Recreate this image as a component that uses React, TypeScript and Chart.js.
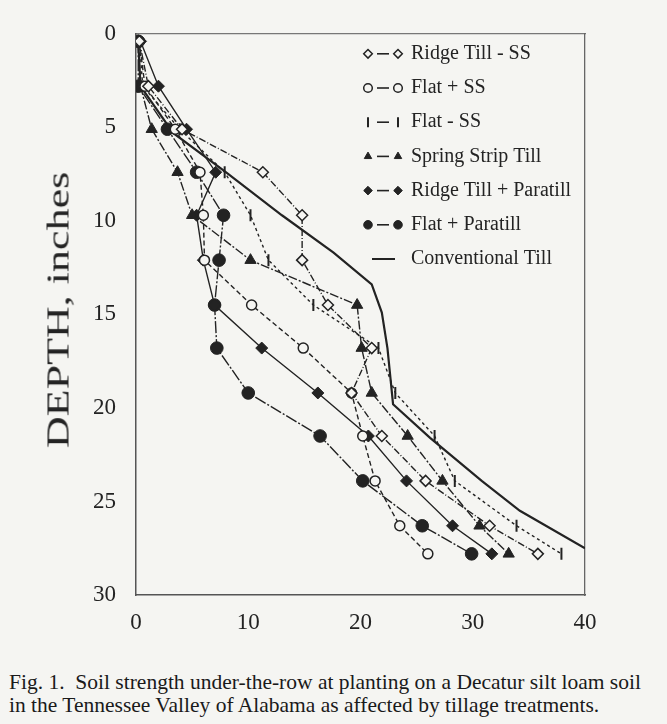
import React, { useEffect, useRef } from 'react';
import { Chart, registerables } from 'chart.js';
import { drawPoint } from 'chart.js/helpers';

Chart.register(...registerables);

// Depth (inches) of each measurement level
const depths = [0.4, 2.8, 5.1, 7.4, 9.7, 12.1, 14.5, 16.8, 19.2, 21.5, 23.9, 26.3, 27.8];

// Soil strength readings for each treatment at the depth levels above
const ridgeTillMinusSS = [0.3, 1.1, 4.1, 11.3, 14.8, 14.8, 17.1, 21.0, 19.2, 21.9, 25.8, 31.5, 35.8];
const flatPlusSS = [0.3, 0.8, 3.5, 5.7, 6.0, 6.1, 10.3, 14.9, 19.2, 20.2, 21.3, 23.5, 26.0];
const flatMinusSS = [0.3, 0.6, 3.9, 7.9, 10.2, 11.8, 15.8, 21.6, 23.1, 26.6, 28.4, 33.9, 37.9];
const springStripTill = [0.2, 0.4, 1.4, 3.7, 5.0, 10.2, 19.7, 20.1, 21.0, 24.2, 27.3, 30.6, 33.2];
const ridgeTillPlusParatill = [0.4, 2.0, 4.5, 7.1, 5.4, 6.0, 7.0, 11.2, 16.2, 20.7, 24.1, 28.2, 31.7];
const flatPlusParatill = [0.2, 0.2, 2.8, 5.4, 7.8, 7.4, 7.0, 7.2, 10.0, 16.4, 20.2, 25.5, 29.9];

// Conventional till is drawn as a plain curve
const conventionalDepths = [0.4, 2.8, 5.3, 7.4, 9.7, 11.7, 13.4, 14.9, 16.8, 19.8, 21.6, 23.9, 25.5, 27.5];
const conventionalTill = [0.2, 0.4, 3.3, 8.0, 13.0, 17.6, 21.0, 21.9, 22.4, 22.9, 26.2, 30.8, 34.2, 40.0];

const seriesLabels = [
  'Ridge Till - SS',
  'Flat + SS',
  'Flat - SS',
  'Spring Strip Till',
  'Ridge Till + Paratill',
  'Flat + Paratill',
  'Conventional Till',
];

const xTickValues = [0, 10, 20, 30, 40];
const yTickValues = [0, 5, 10, 15, 20, 25, 30];

const captionLines = [
  'Fig. 1.  Soil strength under-the-row at planting on a Decatur silt loam soil',
  'in the Tennessee Valley of Alabama as affected by tillage treatments.',
];

const INK = '#232323';
const PAPER = '#f5f5f2';
const SERIF = '"Liberation Serif", "Times New Roman", serif';

const pairs = (ys: number[], xs: number[]) => xs.map((x, i) => ({ x, y: ys[i] }));

const insideLegend = {
  id: 'insideLegend',
  afterDraw(chart: any) {
    const { ctx, chartArea } = chart;
    const x0 = chartArea.left + 232;
    chart.data.datasets.forEach((ds: any, i: number) => {
      const y = chartArea.top + 20 + i * 34.2;
      ctx.save();
      ctx.strokeStyle = INK;
      ctx.lineCap = 'butt';
      if (ds.pointRadius > 0) {
        ctx.lineWidth = 1.6;
        ctx.beginPath();
        ctx.moveTo(x0 + 9, y);
        ctx.lineTo(x0 + 21, y);
        ctx.stroke();
        const opts = {
          pointStyle: ds.pointStyle,
          rotation: ds.pointRotation || 0,
          radius: ds.pointStyle === 'line' ? 5 : 4.3,
          borderWidth: ds.pointBorderWidth,
        };
        ctx.fillStyle = ds.pointBackgroundColor;
        ctx.lineWidth = ds.pointBorderWidth;
        drawPoint(ctx, opts, x0, y);
        drawPoint(ctx, opts, x0 + 30, y);
      } else {
        ctx.lineWidth = 2;
        ctx.beginPath();
        ctx.moveTo(x0 + 4, y);
        ctx.lineTo(x0 + 27, y);
        ctx.stroke();
      }
      ctx.fillStyle = INK;
      ctx.font = `20px ${SERIF}`;
      ctx.textBaseline = 'middle';
      ctx.textAlign = 'left';
      ctx.fillText(ds.label, chartArea.left + 275, y);
      ctx.restore();
    });
  },
};

function markerSet(style: string, radius: number, filled: boolean, extra: any = {}) {
  return {
    pointStyle: style,
    pointRadius: radius,
    pointBackgroundColor: filled ? INK : PAPER,
    pointBorderColor: INK,
    pointBorderWidth: filled ? 1 : 1.5,
    ...extra,
  };
}

export default function App() {
  const canvasRef = useRef<HTMLCanvasElement | null>(null);

  useEffect(() => {
    if (!canvasRef.current) return;
    const base = {
      showLine: true,
      borderColor: INK,
      borderWidth: 1.4,
      tension: 0,
      fill: false,
    };
    const datasets: any[] = [
      { ...base, label: seriesLabels[0], data: pairs(depths, ridgeTillMinusSS), borderDash: [7, 2, 1, 2], ...markerSet('rectRot', 5.5, false) },
      { ...base, label: seriesLabels[1], data: pairs(depths, flatPlusSS), borderDash: [5, 3], ...markerSet('circle', 5, false) },
      { ...base, label: seriesLabels[2], data: pairs(depths, flatMinusSS), borderDash: [3, 3], ...markerSet('line', 6, false, { pointRotation: 90, pointBorderWidth: 2 }) },
      { ...base, label: seriesLabels[3], data: pairs(depths, springStripTill), borderDash: [9, 2, 2, 2], ...markerSet('triangle', 6.5, true) },
      { ...base, label: seriesLabels[4], data: pairs(depths, ridgeTillPlusParatill), ...markerSet('rectRot', 6, true) },
      { ...base, label: seriesLabels[5], data: pairs(depths, flatPlusParatill), borderDash: [12, 2, 2, 2], ...markerSet('circle', 6.3, true) },
      { ...base, label: seriesLabels[6], data: pairs(conventionalDepths, conventionalTill), borderWidth: 2.2, pointRadius: 0 },
    ];

    const axisBorder = { display: true, color: '#555', width: 1.5, dash: [2, 5] };
    const tickFont = { family: SERIF, size: 23 };

    const chart = new Chart(canvasRef.current, {
      type: 'scatter',
      data: { datasets },
      options: {
        responsive: false,
        animation: false,
        devicePixelRatio: 1,
        layout: { padding: 0 },
        plugins: { legend: { display: false }, tooltip: { enabled: false } },
        scales: {
          x: {
            type: 'linear',
            position: 'bottom',
            min: 0,
            max: 40,
            afterBuildTicks: (s: any) => { s.ticks = xTickValues.map((v) => ({ value: v })); },
            afterFit: (s: any) => { s.height = 50; },
            grid: { display: false, drawTicks: false },
            border: axisBorder,
            ticks: { color: INK, font: tickFont, padding: 14, maxRotation: 0 },
          },
          x2: {
            type: 'linear',
            position: 'top',
            min: 0,
            max: 40,
            afterFit: (s: any) => { s.height = 30; },
            grid: { display: false, drawTicks: false },
            border: { ...axisBorder, color: '#777', width: 1.2, dash: [3, 7] },
            ticks: { display: false },
          },
          y: {
            type: 'linear',
            position: 'left',
            reverse: true,
            min: 0,
            max: 30,
            afterBuildTicks: (s: any) => { s.ticks = yTickValues.map((v) => ({ value: v })); },
            afterFit: (s: any) => { s.width = 136; },
            grid: { display: false, drawTicks: false },
            border: axisBorder,
            ticks: { color: INK, font: tickFont, padding: 20 },
          },
          y2: {
            type: 'linear',
            position: 'right',
            reverse: true,
            min: 0,
            max: 30,
            afterFit: (s: any) => { s.width = 82; },
            grid: { display: false, drawTicks: false },
            border: { ...axisBorder, color: '#666', width: 1.3, dash: [4, 4] },
            ticks: { display: false },
          },
        },
      },
      plugins: [insideLegend],
    } as any);

    return () => chart.destroy();
  }, []);

  return (
    <div style={{ position: 'absolute', left: 0, top: 0, width: 667, height: 724, background: PAPER, overflow: 'hidden' }}>
      <canvas ref={canvasRef} width={667} height={645} style={{ position: 'absolute', left: 0, top: 0, width: 667, height: 645 }} />
      <div style={{ position: 'absolute', left: 58, top: 310, width: 0, height: 0 }}>
        <span
          style={{
            position: 'absolute',
            left: 0,
            top: 0,
            whiteSpace: 'nowrap',
            fontFamily: SERIF,
            fontSize: 31,
            color: INK,
            lineHeight: '31px',
            transform: 'translate(-50%, -50%) rotate(-90deg) scale(1.42, 1)',
          }}
        >
          DEPTH, inches
        </span>
      </div>
      <div
        style={{
          position: 'absolute',
          left: 9,
          top: 671,
          fontFamily: SERIF,
          fontSize: 21.5,
          lineHeight: '22.5px',
          color: '#1a1a1a',
          whiteSpace: 'pre',
        }}
      >
        {captionLines[0]}
        <br />
        {captionLines[1]}
      </div>
    </div>
  );
}
